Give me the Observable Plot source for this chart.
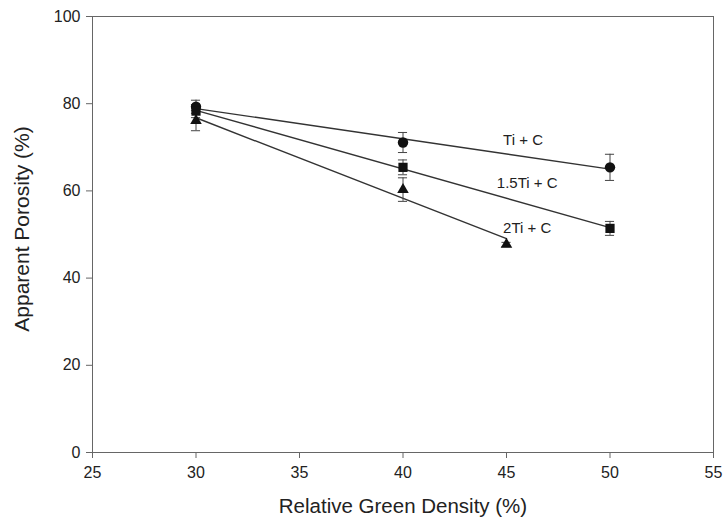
<!DOCTYPE html>
<html>
<head>
<meta charset="utf-8">
<script src="https://cdn.jsdelivr.net/npm/d3@7"></script>
<script src="https://cdn.jsdelivr.net/npm/@observablehq/plot@0.6"></script>
<style>
  body { margin: 0; background: #fff; }
  svg { font-family: "Liberation Sans", Arial, sans-serif; }
</style>
</head>
<body>
<div id="chart"></div>
<script>
const seriesNames = ["Ti + C", "1.5Ti + C", "2Ti + C"];
const seriesSymbols = ["circle", "square", "triangle"];
const tiX = [30, 40, 50];
const tiY = [79.3, 71.1, 65.4];
const tiErr = [1.5, 2.3, 3.0];
const ti15X = [30, 40, 50];
const ti15Y = [78.3, 65.4, 51.4];
const ti15Err = [1.5, 1.7, 1.6];
const ti2X = [30, 40, 45];
const ti2Y = [76.1, 60.3, 47.7];
const ti2Err = [2.3, 2.7, 0.5];
const labelX = [45.8, 46.0, 46.0];
const labelY = [71.6, 61.7, 51.4];
const xTicks = [25, 30, 35, 40, 45, 50, 55];
const yTicks = [0, 20, 40, 60, 80, 100];

const xs = [tiX, ti15X, ti2X], ys = [tiY, ti15Y, ti2Y], es = [tiErr, ti15Err, ti2Err];
const data = [];
seriesNames.forEach((s, i) => xs[i].forEach((x, j) => data.push({series: s, symbol: seriesSymbols[i], x, y: ys[i][j], err: es[i][j]})));
const labels = seriesNames.map((s, i) => ({series: s, x: labelX[i], y: labelY[i]}));
const cap = 0.22;

const chart = Plot.plot({
  width: 724,
  height: 525,
  marginLeft: 92,
  marginRight: 11,
  marginTop: 16,
  marginBottom: 73,
  style: {fontFamily: "'Liberation Sans', Arial, sans-serif", background: "#fff", color: "#222"},
  x: {domain: [25, 55]},
  y: {domain: [0, 100]},
  symbol: {domain: seriesSymbols, range: seriesSymbols},
  marks: [
    Plot.frame({stroke: "#666", strokeWidth: 1}),
    Plot.axisX({ticks: xTicks, tickSize: 6, tickPadding: 8, fontSize: 16, stroke: "#666", fill: "#222",
      label: null}),
    Plot.axisY({ticks: yTicks, tickSize: 6, tickPadding: 6, fontSize: 16, stroke: "#666", fill: "#222",
      label: null}),
    Plot.text(["Relative Green Density (%)"], {frameAnchor: "bottom", dy: 60, fontSize: 20.5, fill: "#222"}),
    Plot.text(["Apparent Porosity (%)"], {frameAnchor: "left", textAnchor: "middle", dx: -70, dy: -5.5, rotate: -90, fontSize: 21, fill: "#222", letterSpacing: "0.5px"}),
    Plot.linearRegressionY(data, {x: "x", y: "y", z: "series", stroke: "#333", strokeWidth: 1.4, ci: 0}),
    Plot.ruleX(data, {x: "x", y1: d => d.y - d.err, y2: d => d.y + d.err, stroke: "#444", strokeWidth: 1}),
    Plot.ruleY(data, {y: d => d.y - d.err, x1: d => d.x - cap, x2: d => d.x + cap, stroke: "#444", strokeWidth: 1}),
    Plot.ruleY(data, {y: d => d.y + d.err, x1: d => d.x - cap, x2: d => d.x + cap, stroke: "#444", strokeWidth: 1}),
    Plot.dot(data, {filter: d => d.symbol !== "triangle", x: "x", y: "y", symbol: "symbol", fill: "#111", stroke: "none", r: 5.2}),
    Plot.dot(data, {filter: d => d.symbol === "triangle", x: "x", y: "y", symbol: "symbol", fill: "#111", stroke: "none", r: 4.3}),
    Plot.text(labels, {x: "x", y: "y", text: "series", fontSize: 15, fill: "#222"})
  ]
});
document.getElementById("chart").appendChild(chart);
</script>
</body>
</html>
